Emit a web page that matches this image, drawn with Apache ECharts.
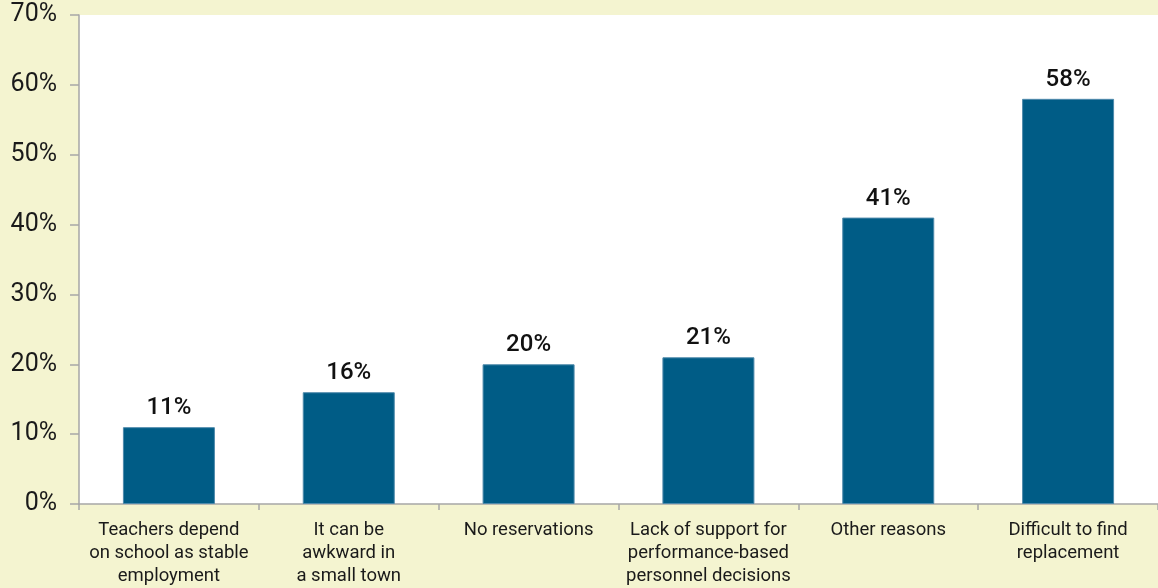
<!DOCTYPE html>
<html><head><meta charset="utf-8">
<script src="https://cdn.jsdelivr.net/npm/echarts@6/dist/echarts.min.js"></script>
<style>html,body{margin:0;padding:0;background:#f4f4d0;}#c{width:1158px;height:588px;}</style>
</head><body><div id="c"></div>
<script>
var categories = ["Teachers depend\non school as stable\nemployment", "It can be\nawkward in\na small town", "No reservations", "Lack of support for\nperformance-based\npersonnel decisions", "Other reasons", "Difficult to find\nreplacement"];
var values = [11, 16, 20, 21, 41, 58];
var yTicks = [0, 10, 20, 30, 40, 50, 60, 70];

var chart = echarts.init(document.getElementById('c'), null, {renderer: 'canvas'});
chart.setOption({
  backgroundColor: '#f4f4d0',
  animation: false,
  textStyle: {fontFamily: 'Roboto'},
  grid: {left: 79, right: -3, top: 15, bottom: 83, show: true, backgroundColor: '#ffffff', borderWidth: 0},
  xAxis: {
    type: 'category', data: categories,
    axisLine: {lineStyle: {color: '#a6a6a6', width: 1.5}},
    axisTick: {show: true, length: 6, lineStyle: {color: '#a6a6a6', width: 1.5}},
    axisLabel: {color: '#1a1a1a', fontSize: 18.5, lineHeight: 23, margin: 15, interval: 0, fontFamily: 'Roboto'}
  },
  yAxis: {
    type: 'value', min: 0, max: 70, interval: 10,
    axisLine: {show: true, lineStyle: {color: '#a6a6a6', width: 1.5}},
    axisTick: {show: true, length: 9, lineStyle: {color: '#a6a6a6', width: 1.5}},
    splitLine: {show: false},
    axisLabel: {color: '#1a1a1a', fontSize: 25, margin: 22, fontFamily: 'Roboto',
      formatter: function (v) { return yTicks.indexOf(v) >= 0 ? v + '%' : ''; }}
  },
  series: [{
    type: 'bar', data: values, barWidth: 92,
    itemStyle: {color: '#005c86', borderColor: '#4f8aab', borderWidth: 1},
    label: {show: true, position: 'top', distance: 7, color: '#111111', fontSize: 24, fontWeight: 500,
      fontFamily: 'Roboto', formatter: '{c}%'}
  }]
});
</script></body></html>
